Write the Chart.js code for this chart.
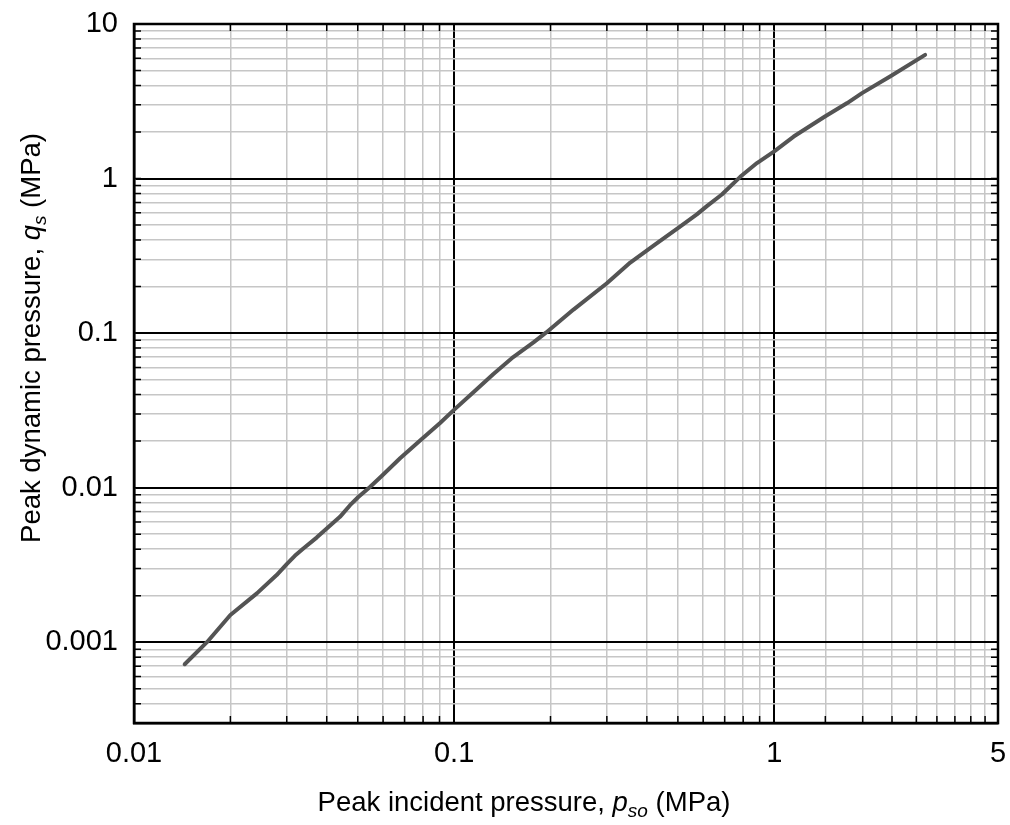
<!DOCTYPE html>
<html><head><meta charset="utf-8">
<script src="https://cdn.jsdelivr.net/npm/chart.js@4.4.1/dist/chart.umd.min.js"></script>
<style>html,body{margin:0;padding:0;background:#fff}#wrap{width:1010px;height:825px}</style>
</head><body><div id="wrap"><canvas id="c" width="1010" height="825"></canvas></div>
<script>
// Peak incident pressure p_so (MPa)
const pso = [0.0144,0.0169,0.0200,0.0242,0.0279,0.0300,0.0318,0.0338,0.0372,0.0400,0.0440,0.0473,0.0502,0.0546,0.0594,0.0678,0.0783,0.0904,0.0995,0.1149,0.1327,0.153,0.177,0.194,0.236,0.300,0.355,0.425,0.509,0.573,0.616,0.686,0.783,0.883,1.0,1.15,1.44,1.69,1.88,2.30,2.96];
// Peak dynamic pressure q_s (MPa)
const qs = [0.00072,0.0010,0.0015,0.00207,0.00272,0.00320,0.00362,0.00404,0.00475,0.00544,0.00647,0.0077,0.0087,0.0101,0.0119,0.0155,0.0202,0.0262,0.0316,0.0414,0.0544,0.0700,0.087,0.101,0.142,0.210,0.286,0.375,0.49,0.586,0.663,0.789,1.026,1.26,1.50,1.87,2.52,3.08,3.57,4.57,6.31];

const xMin = 0.01, xMax = 5;
const yMin = 0.0003, yMax = 10;
const xTickLabels = [0.01, 0.1, 1, 5];
const xMajorGrid = [0.1, 1];
const xMinorGrid = [0.02,0.03,0.04,0.05,0.06,0.07,0.08,0.09,0.2,0.3,0.4,0.5,0.6,0.7,0.8,0.9,1.444,1.889,2.333,2.778,3.222,3.667,4.111,4.556];
const yTickLabels = [0.001, 0.01, 0.1, 1, 10];
const yMajorGrid = [0.001, 0.01, 0.1, 1];
const yMinorGrid = [0.0004,0.0005,0.0006,0.0007,0.0008,0.0009,0.002,0.003,0.004,0.005,0.006,0.007,0.008,0.009,0.02,0.03,0.04,0.05,0.06,0.07,0.08,0.09,0.2,0.3,0.4,0.5,0.6,0.7,0.8,0.9,2,3,4,5,6,7,8,9];

const FONT = '"Liberation Sans", Arial, sans-serif';
const TICK_SIZE = 29;
const TITLE_SIZE = 27.5;

function near(list, v){ return list.some(a => Math.abs(a - v) / a < 1e-6); }
function buildTicks(all){ return Array.from(new Set(all)).sort((a,b)=>a-b).map(v => ({value: v})); }

const framePlugin = {
  id: 'frame',
  beforeDatasetsDraw(chart){
    const {ctx, chartArea: a, scales} = chart;
    ctx.save();
    ctx.strokeStyle = '#000';
    ctx.lineWidth = 1.5;
    const L = 7;
    ctx.beginPath();
    scales.x.ticks.forEach(t => {
      const px = scales.x.getPixelForValue(t.value);
      if (px <= a.left + 1 || px >= a.right - 1) return;
      ctx.moveTo(px, a.bottom); ctx.lineTo(px, a.bottom - L);
      ctx.moveTo(px, a.top); ctx.lineTo(px, a.top + L);
    });
    scales.y.ticks.forEach(t => {
      const py = scales.y.getPixelForValue(t.value);
      if (py <= a.top + 1 || py >= a.bottom - 1) return;
      ctx.moveTo(a.left, py); ctx.lineTo(a.left + L, py);
      ctx.moveTo(a.right, py); ctx.lineTo(a.right - L, py);
    });
    ctx.stroke();
    ctx.lineWidth = 2.5;
    ctx.strokeRect(a.left, a.top, a.right - a.left, a.bottom - a.top);
    ctx.restore();
  },
  afterDraw(chart){
    const {ctx} = chart;
    function drawParts(parts){
      let w = 0;
      parts.forEach(p => { ctx.font = p.font; p.w = ctx.measureText(p.t).width; w += p.w; });
      let x = -w / 2;
      parts.forEach(p => { ctx.font = p.font; ctx.fillText(p.t, x, p.dy || 0); x += p.w; });
    }
    const n = TITLE_SIZE + 'px ' + FONT;
    const it = 'italic ' + TITLE_SIZE + 'px ' + FONT;
    const sub = 'italic ' + Math.round(TITLE_SIZE * 0.68) + 'px ' + FONT;
    ctx.save();
    ctx.fillStyle = '#000';
    ctx.textBaseline = 'alphabetic';
    ctx.textAlign = 'left';
    ctx.save();
    ctx.translate(524, 811);
    drawParts([
      {t: 'Peak incident pressure, ', font: n},
      {t: 'p', font: it},
      {t: 'so', font: sub, dy: 6},
      {t: ' (MPa)', font: n}
    ]);
    ctx.restore();
    ctx.save();
    ctx.translate(40, 338);
    ctx.rotate(-Math.PI / 2);
    drawParts([
      {t: 'Peak dynamic pressure, ', font: n},
      {t: 'q', font: it},
      {t: 's', font: sub, dy: 6},
      {t: ' (MPa)', font: n}
    ]);
    ctx.restore();
    ctx.restore();
  }
};

const gridColor = (major) => (ctx) => near(major, ctx.tick.value) ? '#000' : '#c6c6c6';
const gridWidth = (major) => (ctx) => near(major, ctx.tick.value) ? 2 : 1.5;

new Chart(document.getElementById('c'), {
  type: 'scatter',
  data: {
    datasets: [{
      data: pso.map((x, i) => ({x: x, y: qs[i]})),
      showLine: true,
      borderColor: '#545454',
      borderWidth: 4,
      pointRadius: 0,
      tension: 0,
      fill: false,
      borderCapStyle: 'round',
      borderJoinStyle: 'round'
    }]
  },
  options: {
    responsive: false,
    animation: false,
    devicePixelRatio: 1,
    layout: {padding: {left: 0, right: 12, top: 24, bottom: 0}},
    plugins: {legend: {display: false}, tooltip: {enabled: false}},
    scales: {
      x: {
        type: 'logarithmic',
        min: xMin, max: xMax,
        afterBuildTicks: s => { s.ticks = buildTicks([xMin, ...xMinorGrid, ...xMajorGrid, ...xTickLabels, xMax]); },
        afterFit: s => { s.height = 102; },
        ticks: {
          autoSkip: false, maxRotation: 0, padding: 0,
          color: '#000', font: {family: FONT, size: TICK_SIZE},
          callback: v => near(xTickLabels, v) ? String(v) : ''
        },
        grid: {color: gridColor(xMajorGrid), lineWidth: gridWidth(xMajorGrid), drawTicks: true, tickLength: 14, tickColor: 'rgba(0,0,0,0)'},
        border: {display: true, color: '#000', width: 2.5}
      },
      y: {
        type: 'logarithmic',
        min: yMin, max: yMax,
        afterBuildTicks: s => { s.ticks = buildTicks([yMin, ...yMinorGrid, ...yMajorGrid, ...yTickLabels]); },
        afterFit: s => { s.width = 134; },
        ticks: {
          autoSkip: false, padding: 0,
          color: '#000', font: {family: FONT, size: TICK_SIZE},
          callback: v => near(yTickLabels, v) ? String(v) : ''
        },
        grid: {color: gridColor(yMajorGrid), lineWidth: gridWidth(yMajorGrid), drawTicks: true, tickLength: 16, tickColor: 'rgba(0,0,0,0)'},
        border: {display: true, color: '#000', width: 2.5}
      }
    }
  },
  plugins: [framePlugin]
});
</script>
</body></html>
